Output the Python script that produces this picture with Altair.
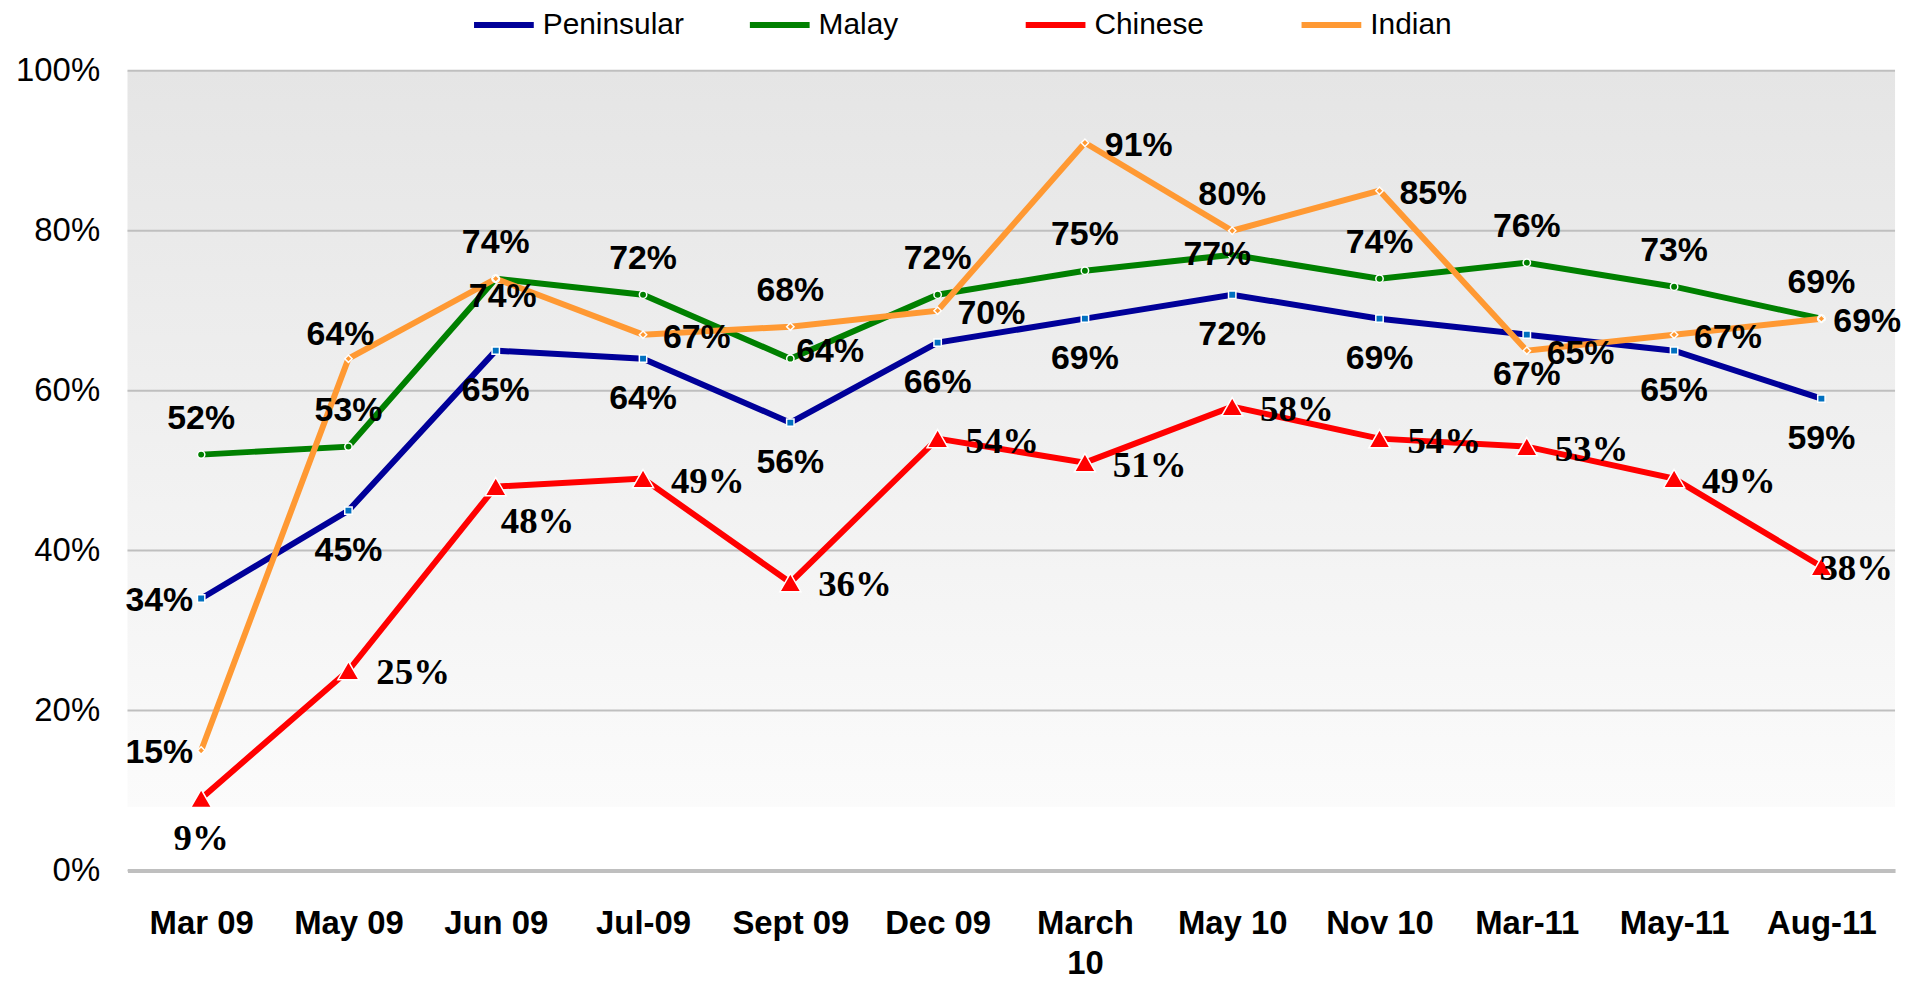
import altair as alt
import pandas as pd

PERIODS = ["Mar 09", "May 09", "Jun 09", "Jul-09", "Sept 09", "Dec 09",
           "March 10", "May 10", "Nov 10", "Mar-11", "May-11", "Aug-11"]
PENINSULAR = [34, 45, 65, 64, 56, 66, 69, 72, 69, 67, 65, 59]
MALAY = [52, 53, 74, 72, 64, 72, 75, 77, 74, 76, 73, 69]
CHINESE = [9, 25, 48, 49, 36, 54, 51, 58, 54, 53, 49, 38]
INDIAN = [15, 64, 74, 67, 68, 70, 91, 80, 85, 65, 67, 69]
SERIES = ["Peninsular", "Malay", "Chinese", "Indian"]
COLORS = ["#000099", "#008000", "#FF0000", "#FF9933"]
Y_TICKS = [0, 20, 40, 60, 80, 100]

# label placement keywords per point
PEN_POS = ["left"] + ["below"] * 11
MALAY_POS = ["above", "above", "above", "above", "right_near", "above",
             "above", "on_left", "above", "above", "above", "above"]
CHINESE_POS = ["below", "right_far", "below_right", "right_far", "right_far", "right_far",
               "right_far", "right_far", "right_far", "right_far", "right_far", "overlap"]
INDIAN_POS = ["left", "up_left", "down_right", "right", "above", "right",
              "right", "above", "right", "right", "right", "right_close"]

PLACE = {
    "above": ("center", 0, -36),
    "below": ("center", 0, 41),
    "left": ("right", -8, 3),
    "right": ("left", 20, 3),
    "right_near": ("left", 6, -7),
    "right_close": ("left", 12, 3),
    "right_far": ("left", 28, 3),
    "on_left": ("center", -15, 0),
    "up_left": ("center", -8, -24),
    "down_right": ("center", 7, 18),
    "below_right": ("left", 5, 36),
    "overlap": ("left", -2, 3),
}

W, H = 1775, 803
SANS = "Liberation Sans, Arial, sans-serif"
SERIF = "Liberation Serif, Times New Roman, serif"

rows = []
for name, vals, poss in [("Peninsular", PENINSULAR, PEN_POS), ("Malay", MALAY, MALAY_POS),
                         ("Chinese", CHINESE, CHINESE_POS), ("Indian", INDIAN, INDIAN_POS)]:
    for p, v, pos in zip(PERIODS, vals, poss):
        rows.append({"period": p, "series": name, "value": v, "pos": pos, "label": f"{v}%"})
df = pd.DataFrame(rows)

x_enc = alt.X("period:N", sort=PERIODS, title=None,
              axis=alt.Axis(labelAngle=0, ticks=False, domain=True, domainColor="#bfbfbf",
                            domainWidth=4, labelFont=SANS, labelFontWeight="bold",
                            labelFontSize=33, labelColor="#000000", labelPadding=37,
                            labelLineHeight=41, labelLimit=400, zindex=1,
                            labelExpr="datum.label == 'March 10' ? ['March', '10'] : datum.label"))
y_scale = alt.Scale(domain=[0, 100], nice=False)
y_axis = alt.Axis(values=Y_TICKS, labelExpr="datum.value + '%'", grid=False, title=None,
                  domain=False, ticks=False, labelFont=SANS,
                  labelFontSize=33, labelPadding=28, labelColor="#000000")
y_enc = alt.Y("value:Q", scale=y_scale, title=None, axis=y_axis)

gradient = alt.LinearGradient(
    gradient="linear", x1=0, x2=0, y1=0, y2=1,
    stops=[alt.GradientStop(offset=0, color="#e5e5e5"),
           alt.GradientStop(offset=0.92, color="#fbfbfb"),
           alt.GradientStop(offset=0.921, color="#ffffff"),
           alt.GradientStop(offset=1, color="#ffffff")])

bg = alt.Chart(alt.Data(values=[{"a": 1}])).mark_rect(color=gradient).encode(
    x=alt.value(0), x2=alt.value(W), y=alt.value(0), y2=alt.value(H))

grid = alt.Chart(pd.DataFrame({"value": Y_TICKS})).mark_rule(color="#bfbfbf", strokeWidth=2).encode(
    y=y_enc)

base = alt.Chart(df)
color_enc = alt.Color("series:N", scale=alt.Scale(domain=SERIES, range=COLORS),
                      legend=alt.Legend(title=None, orient="none", direction="horizontal",
                                        columns=4, legendX=345, legendY=-79,
                                        gridAlign="all",
                                        symbolType="stroke", symbolStrokeWidth=6,
                                        symbolSize=3600, labelFont=SANS, labelFontSize=30,
                                        labelColor="#000000", labelOffset=6,
                                        columnPadding=54, labelLimit=400))

MARKERS = {
    "Peninsular": dict(shape="square", fill="#0070C0", size=55),
    "Malay": dict(shape="circle", fill="#008000", size=55),
    "Chinese": dict(shape="triangle-up", fill="#FF0000", size=450),
    "Indian": dict(shape="diamond", fill="#FF9933", size=55),
}

layers = [bg, grid]
for s in SERIES:
    layers.append(base.transform_filter(alt.datum.series == s).mark_line(strokeWidth=6).encode(
        x=x_enc, y=y_enc, color=color_enc))
for s in SERIES:
    m = MARKERS[s]
    layers.append(base.transform_filter(alt.datum.series == s).mark_point(
        shape=m["shape"], filled=True, fill=m["fill"], stroke="white", strokeWidth=1.5,
        size=m["size"], opacity=1).encode(x=x_enc, y=y_enc))
for s in SERIES:
    font = SERIF if s == "Chinese" else SANS
    fsize = 37 if s == "Chinese" else 34
    sub = df[df.series == s]
    for pos in sorted(set(sub.pos)):
        align, dx, dy = PLACE[pos]
        layers.append(base.transform_filter(
            (alt.datum.series == s) & (alt.datum.pos == pos)).mark_text(
            align=align, baseline="middle", dx=dx, dy=dy, font=font, fontSize=fsize,
            fontWeight="bold", color="#000000").encode(x=x_enc, y=y_enc, text="label:N"))

chart = alt.layer(*layers).properties(
    width=W, height=H,
    autosize=alt.AutoSizeParams(type="none"),
    padding={"left": 120, "top": 61, "right": 10, "bottom": 110},
).configure_view(stroke=None)

chart.save("out.html", embed_options={"renderer": "svg", "actions": False})
